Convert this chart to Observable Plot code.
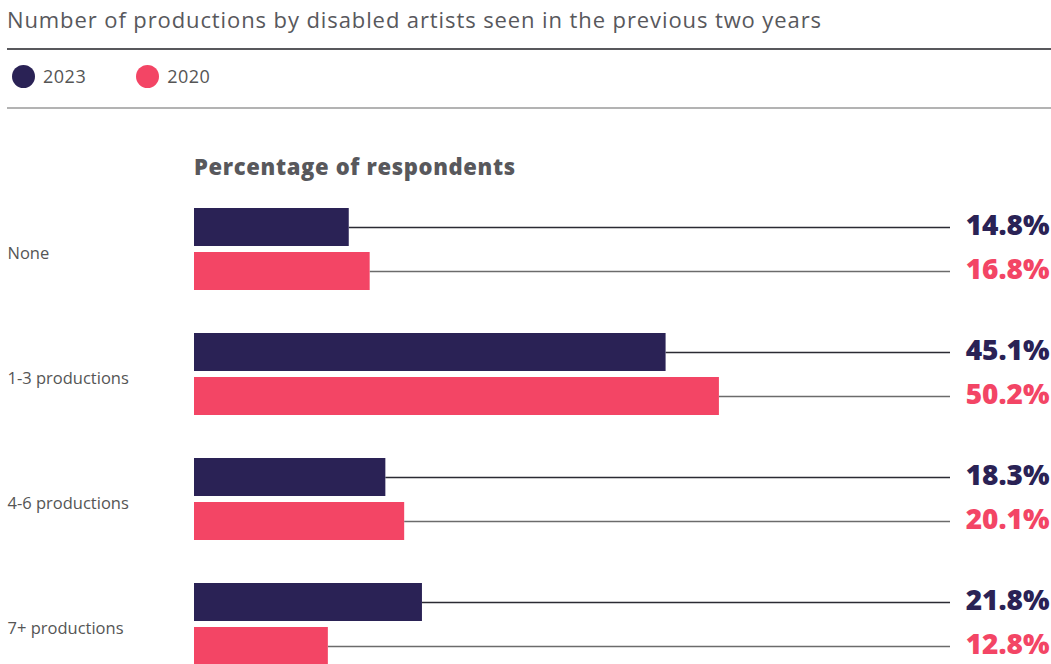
<!DOCTYPE html>
<html>
<head>
<meta charset="utf-8">
<script src="https://cdn.jsdelivr.net/npm/d3@7"></script>
<script src="https://cdn.jsdelivr.net/npm/@observablehq/plot@0.6"></script>
<style>
  html, body { margin: 0; padding: 0; background: #fff; overflow: hidden; }
  body { width: 1051px; height: 664px; position: relative; font-family: "Open Sans", "Noto Sans", sans-serif; color: #555; }
  .title { position: absolute; left: 7px; top: 5px; font-size: 22px; letter-spacing: 0.9px; line-height: 28px; color: #58585c; white-space: nowrap; }
  .rule1 { position: absolute; left: 7px; right: 0; top: 48px; height: 2px; background: #58585c; }
  .rule2 { position: absolute; left: 7px; right: 0; top: 107px; height: 2px; background: #b3b3b3; }
  .legend { position: absolute; top: 64px; left: 12px; display: flex; align-items: center; font-size: 18px; letter-spacing: 0.5px; color: #555; }
  .legend .item { display: flex; align-items: center; margin-right: 50px; }
  .legend .sw { width: 23px; height: 23px; border-radius: 50%; margin-right: 8px; }
  .subhead { position: absolute; left: 194px; top: 151px; font-size: 22px; letter-spacing: 0.65px; font-weight: 800; color: #58585c; line-height: 30px; white-space: nowrap; }
  #chart { position: absolute; left: 0; top: 120px; }
</style>
</head>
<body>
<div class="title">Number of productions by disabled artists seen in the previous two years</div>
<div class="rule1"></div>
<div class="legend" id="legend"></div>
<div class="rule2"></div>
<div class="subhead">Percentage of respondents</div>
<div id="chart"></div>
<script>
const categories = ["None", "1-3 productions", "4-6 productions", "7+ productions"];
const years = ["2023", "2020"];
const values2023 = [14.8, 45.1, 18.3, 21.8];
const values2020 = [16.8, 50.2, 20.1, 12.8];
const colors = ["#2a2255", "#f34565"];
const leaderColors = ["#2b2b33", "#6b6b6b"];

const data = categories.flatMap((c, i) => [
  {category: c, year: years[0], value: values2023[i]},
  {category: c, year: years[1], value: values2020[i]}
]);

const xMax = 72.3;

// legend
const legend = document.getElementById("legend");
years.forEach((y, i) => {
  const item = document.createElement("div");
  item.className = "item";
  const sw = document.createElement("div");
  sw.className = "sw";
  sw.style.background = colors[i];
  const label = document.createElement("span");
  label.textContent = y;
  item.appendChild(sw);
  item.appendChild(label);
  legend.appendChild(item);
});

const chart = Plot.plot({
  width: 1051,
  height: 560,
  marginLeft: 194,
  marginRight: 101,
  marginTop: 82,
  marginBottom: 9.5,
  style: {fontFamily: "'Open Sans', 'Noto Sans', sans-serif", background: "transparent"},
  x: {domain: [0, xMax], axis: null},
  y: {domain: years, axis: null, paddingInner: 6 / 44, paddingOuter: 0.0909},
  fy: {domain: categories, axis: null, paddingInner: 0.28, paddingOuter: 0},
  color: {domain: years, range: colors},
  marks: [
    Plot.ruleY(data, {
      fy: "category", y: "year",
      x1: "value", x2: () => xMax,
      stroke: d => leaderColors[years.indexOf(d.year)],
      strokeWidth: 1.5
    }),
    Plot.barX(data, {fy: "category", y: "year", x: "value", fill: "year"}),
    Plot.text(data, {
      fy: "category", y: "year",
      text: d => d.value.toFixed(1) + "%",
      frameAnchor: "right", textAnchor: "end", dx: 99, dy: -1,
      fill: "year", fontSize: 28, fontWeight: 800,
      letterSpacing: 2
    }),
    Plot.text(categories, {
      fy: d => d, text: d => d,
      frameAnchor: "left", textAnchor: "start", dx: -187, dy: 4,
      fontSize: 16.5, fill: "#555", letterSpacing: 1.2
    })
  ]
});
document.getElementById("chart").appendChild(chart);
</script>
</body>
</html>
